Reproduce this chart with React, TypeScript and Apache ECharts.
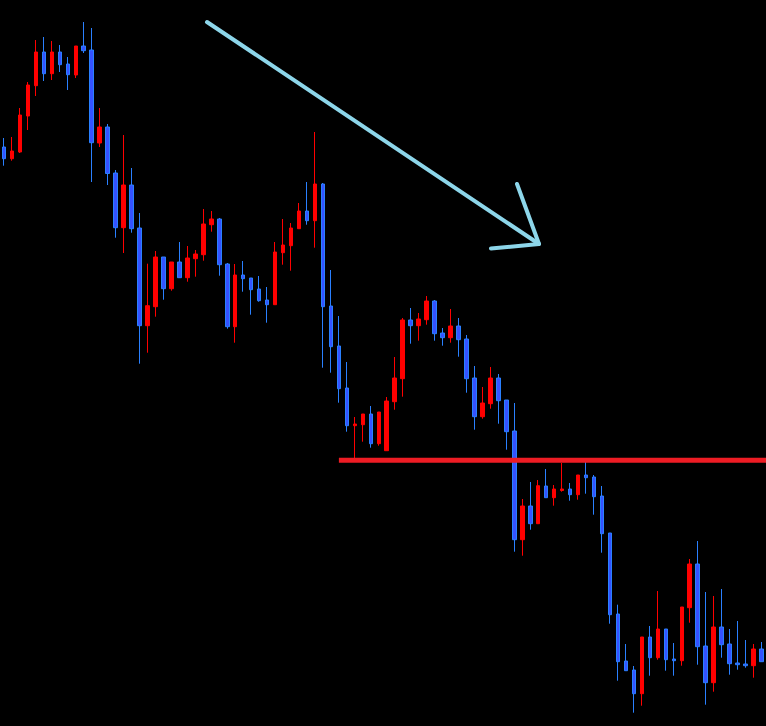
import React, { useEffect, useRef } from "react";
import * as echarts from "echarts";

// Candle index labels (96 bars)
const categories: string[] = Array.from({ length: 96 }, (_, i) => `${i + 1}`);

// OHLC values (arbitrary price units)
const opens: number[] = [
  579, 567.3, 574, 610, 640.3, 674, 652.3, 674, 662, 651, 680, 676, 583, 599, 553, 498.3,
  541, 498, 400.3, 419.3, 469, 437.3, 464, 448.3, 467.3, 471.3, 501.3, 507, 462, 399.3, 451, 448,
  437, 426, 421.3, 473.3, 480.3, 497.3, 515, 505.3, 542, 420, 380, 338, 300.3, 301.3, 312, 282.3,
  275.3, 324.3, 347.3, 406, 400.3, 406.3, 425, 393, 388.3, 400, 387, 348, 309.3, 322.3, 348, 326,
  295, 186.3, 220, 202.3, 240, 228.3, 235.5, 237, 231.3, 251, 249, 230, 193, 112, 65, 56,
  32.3, 89, 68.3, 97, 67, 65.3, 118.3, 162, 80, 43.3, 99, 82, 63, 62, 60.3, 77,
];
const closes: number[] = [
  567.3, 575, 611, 641, 674, 652.3, 674, 661.3, 651.3, 680, 675.3, 583.3, 599, 552.5, 498.3, 541,
  497.3, 400.3, 420.3, 469, 437.3, 464, 448.3, 468, 472, 502, 507, 461.3, 399.3, 451, 447.3, 436.3,
  425.3, 421.3, 474, 481, 498, 515, 505.3, 542, 419.3, 379.3, 337.3, 300.3, 302, 312, 282.3, 314,
  325, 348, 406, 400.3, 407, 425, 392.3, 388.3, 400, 386.3, 347.3, 309.3, 323, 348, 325.3, 294.3,
  186.3, 220, 202.3, 240.3, 228.3, 237, 237, 231.3, 251, 248.3, 229.3, 192.3, 111.3, 64.3, 55.3, 32.3,
  89, 68.3, 97, 66.3, 65.3, 119, 162, 79.3, 43.3, 99, 81.3, 62.3, 61.3, 60.3, 77, 64.3,
];
const lows: number[] = [
  560.3, 565.3, 573, 596, 630, 645, 646, 654, 636, 648, 673, 544, 579, 541, 488.3, 473,
  493.3, 362.3, 373.3, 409.3, 426.3, 435.3, 448.3, 444.3, 449.3, 465.3, 494.3, 450.3, 397.3, 383.3, 434.3, 411.3,
  424.3, 403.3, 421.3, 461.3, 455.3, 497.3, 501.3, 478.3, 358.3, 353.3, 323.3, 294.3, 266, 284.3, 278.3, 280.3,
  275.3, 316.3, 329.3, 382.3, 385.3, 401.3, 385.3, 380.3, 383.3, 369.3, 333.3, 296.3, 307.3, 317.3, 302.3, 276.3,
  174.3, 170.3, 196.3, 202.3, 228.3, 220.3, 234.3, 225.3, 226.3, 232.3, 211.3, 173.3, 102.3, 45.3, 55.3, 13.3,
  20.3, 50.3, 66.3, 55.3, 50.3, 60.3, 103.3, 61.3, 21.3, 34.3, 68.3, 51.3, 56.3, 58.3, 48.3, 64.3,
];
const highs: number[] = [
  588, 589, 618, 644, 686, 689, 685, 681, 669, 680, 704, 698, 618, 602, 556, 591,
  558, 513, 462.3, 475, 469, 464, 484, 480, 476, 517, 515, 508, 463, 462, 465, 448,
  450, 439, 484, 507, 503, 523, 544, 594, 543, 456, 410, 364, 309, 312, 320, 314,
  329, 369, 408, 418, 413, 430, 426, 398, 417, 408, 391, 360, 339, 359, 352, 326,
  323, 227, 244, 246, 257, 241, 263, 243, 251, 264, 251, 240, 193, 121.3, 82, 60,
  89, 100, 135, 97, 83, 119, 167, 185, 134, 130, 137, 97, 105, 86, 82, 84,
];

// Horizontal support level and the candle where it starts
const levelValue = 265.7;
const levelStartIndex = 42.2;

const App: React.FC = () => {
  const ref = useRef<HTMLDivElement>(null);

  useEffect(() => {
    if (!ref.current) return;
    const chart = echarts.init(ref.current, null, { renderer: "svg" });
    const data = categories.map((_, i) => [opens[i], closes[i], lows[i], highs[i]]);
    chart.setOption({
      animation: false,
      backgroundColor: "#000000",
      grid: { left: -2.5, top: 0, width: 768, height: 726 },
      xAxis: {
        type: "category",
        data: categories,
        show: false,
        boundaryGap: true,
      },
      yAxis: {
        type: "value",
        min: 0,
        max: 726,
        show: false,
      },
      series: [
        {
          type: "candlestick",
          data,
          barWidth: 4,
          itemStyle: {
            color: "#ff0000",
            color0: "#3552ff",
            borderColor: "#ff0000",
            borderColor0: "#2a80ff",
            borderWidth: 1,
          },
        },
      ],
    });

    const start = chart.convertToPixel({ gridIndex: 0 }, [levelStartIndex, levelValue]) as number[];
    const y = start ? start[1] : 460;
    const x0 = start ? start[0] : 339;

    chart.setOption({
      graphic: [
        {
          type: "line",
          shape: { x1: x0, y1: y, x2: 766, y2: y },
          style: { stroke: "#ee1c24", lineWidth: 5 },
          z: 100,
        },
        {
          type: "polyline",
          shape: { points: [[207, 22], [539, 244]] },
          style: { stroke: "#8dd6ea", lineWidth: 4, lineCap: "round", fill: null },
          z: 100,
        },
        {
          type: "polyline",
          shape: { points: [[517, 184], [539, 244], [491, 248.5]] },
          style: { stroke: "#8dd6ea", lineWidth: 4, lineCap: "round", lineJoin: "round", fill: null },
          z: 100,
        },
      ],
    });

    return () => chart.dispose();
  }, []);

  return (
    <div
      ref={ref}
      style={{ position: "fixed", left: 0, top: 0, width: 766, height: 726, background: "#000" }}
    />
  );
};

export default App;
